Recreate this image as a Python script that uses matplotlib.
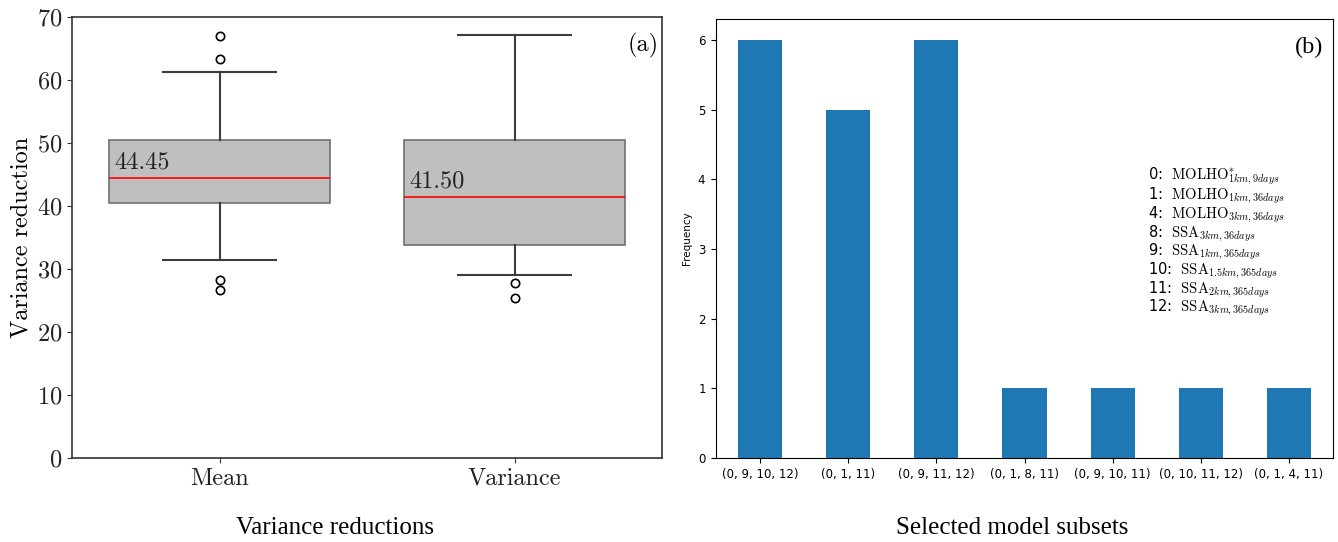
import matplotlib
matplotlib.use('Agg')
import matplotlib.pyplot as plt

plt.rcParams['mathtext.fontset'] = 'cm'
plt.rcParams['axes.formatter.use_mathtext'] = True

# (a) summary statistics of the variance reductions
box_names = ['Mean', 'Variance']
box_q1 = [40.55, 33.8]
box_med = [44.45, 41.50]
box_q3 = [50.5, 50.4]
box_whislo = [31.4, 29.0]
box_whishi = [61.3, 67.1]
box_fliers = [[67.0, 63.3, 28.2, 26.6], [27.8, 25.4]]

# (b) how often each model subset was selected
subsets = ['(0, 9, 10, 12)', '(0, 1, 11)', '(0, 9, 11, 12)', '(0, 1, 8, 11)',
           '(0, 9, 10, 11)', '(0, 10, 11, 12)', '(0, 1, 4, 11)']
frequency = [6, 5, 6, 1, 1, 1, 1]

model_keys = [
    '0:  $\\mathrm{MOLHO}^{*}_{1km,9days}$',
    '1:  $\\mathrm{MOLHO}_{1km,36days}$',
    '4:  $\\mathrm{MOLHO}_{3km,36days}$',
    '8:  $\\mathrm{SSA}_{3km,36days}$',
    '9:  $\\mathrm{SSA}_{1km,365days}$',
    '10:  $\\mathrm{SSA}_{1.5km,365days}$',
    '11:  $\\mathrm{SSA}_{2km,365days}$',
    '12:  $\\mathrm{SSA}_{3km,365days}$',
]

W, H = 1338, 542
fig = plt.figure(figsize=(W / 100, H / 100), dpi=100)
ax1 = fig.add_axes([72 / W, 1 - 458 / H, 590 / W, 441 / H])
ax2 = fig.add_axes([716 / W, 1 - 458 / H, 617 / W, 439 / H])

cm = 'cmr10'

# ---- (a) boxplot ----
stats = []
for i, name in enumerate(box_names):
    stats.append(dict(label=name, q1=box_q1[i], med=box_med[i], q3=box_q3[i],
                      whislo=box_whislo[i], whishi=box_whishi[i],
                      fliers=box_fliers[i]))
pos = list(range(len(box_names)))
ax1.bxp(stats, positions=pos, widths=0.75, patch_artist=True,
        boxprops=dict(facecolor='#bfbfbf', edgecolor='#707070', linewidth=1.2),
        medianprops=dict(color='red', linewidth=1.2),
        whiskerprops=dict(color='#3d3d3d', linewidth=1.5),
        capprops=dict(color='#3d3d3d', linewidth=1.5),
        capwidths=0.38,
        flierprops=dict(marker='o', markerfacecolor='none', markeredgecolor='black',
                        markersize=6, markeredgewidth=1.2))
for i in pos:
    ax1.text(i - 0.75 / 2 + 0.02, box_med[i] + 0.7, '%.2f' % box_med[i],
             fontfamily=cm, fontsize=17.5, color='#222222', ha='left', va='bottom')

ax1.set_xlim(-0.5, 1.5)
ax1.set_ylim(0, 70)
ax1.set_xticks(pos)
ax1.set_xticklabels(box_names)
ax1.set_ylabel('Variance reduction', fontfamily=cm, fontsize=17.5, labelpad=3)
for lab in ax1.get_xticklabels() + ax1.get_yticklabels():
    lab.set_fontfamily(cm)
    lab.set_fontsize(17.5)
for s in ax1.spines.values():
    s.set_color('#333333')
    s.set_linewidth(1.2)
ax1.tick_params(colors='#333333', labelcolor='#222222')
ax1.text(0.995, 0.935, '(a)', transform=ax1.transAxes, ha='right', va='center',
         fontfamily=cm, fontsize=17.5)

# ---- (b) bar chart ----
ax2.bar(range(len(subsets)), frequency, width=0.5, color='#1f77b4')
ax2.set_xlim(-0.5, len(subsets) - 0.5)
ax2.set_ylim(0, max(frequency) * 1.05)
ax2.set_xticks(range(len(subsets)))
ax2.set_xticklabels(subsets, fontsize=8.5)
ax2.tick_params(axis='y', labelsize=8.5)
ax2.set_ylabel('Frequency', fontsize=7.5)
ax2.text(0.985, 0.935, '(b)', transform=ax2.transAxes, ha='right', va='center',
         fontfamily='Liberation Serif', fontsize=17.5)

# model index key
ax2.text(0.700, 0.665, '\n'.join(model_keys), transform=ax2.transAxes,
         ha='left', va='top', fontsize=10.5, linespacing=0.9)

# captions under each panel
fig.text(335 / W, 1 - 528 / H, 'Variance reductions', ha='center', va='center',
         fontfamily='Liberation Serif', fontsize=18)
fig.text(1012 / W, 1 - 528 / H, 'Selected model subsets', ha='center', va='center',
         fontfamily='Liberation Serif', fontsize=18)

fig.savefig('out.png', dpi=100)
